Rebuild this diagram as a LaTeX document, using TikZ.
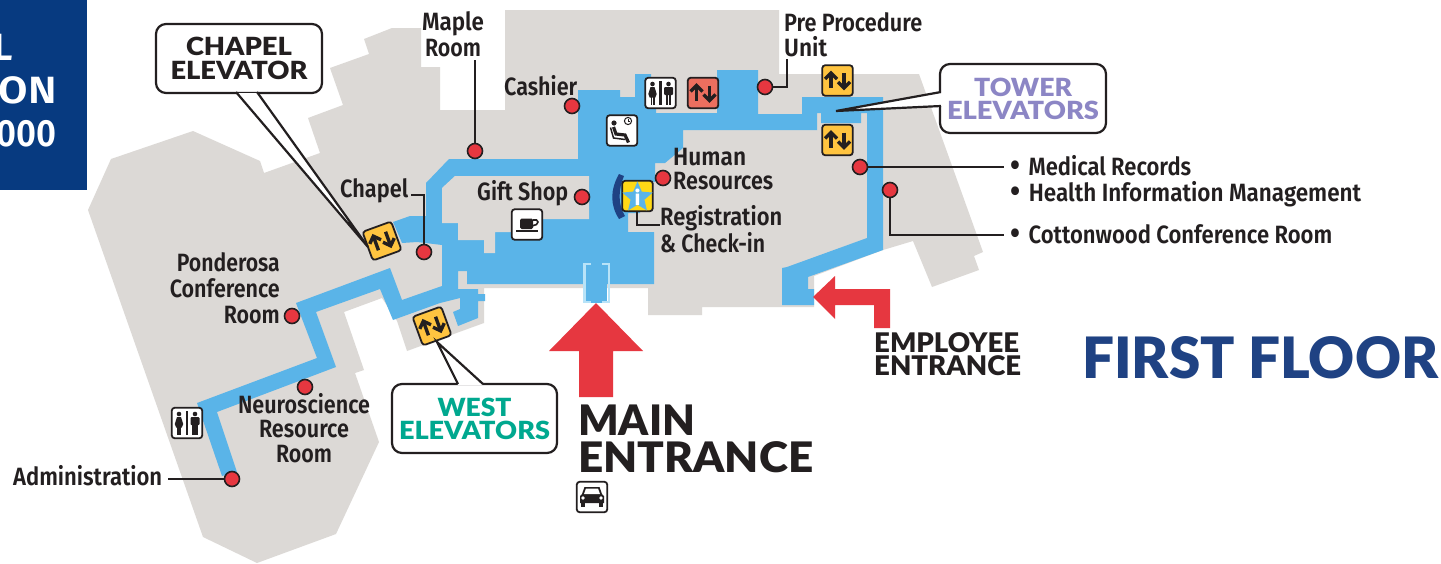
\documentclass[tikz,border=0pt]{standalone}
\usepackage{fontspec}
\usepackage{graphicx}
\usetikzlibrary{shapes.geometric,calc}
\newfontfamily\lab{Fira Sans SemiBold}
\newfontfamily\hd{Lato Black}
\definecolor{ink}{HTML}{231F20}
\definecolor{bldg}{HTML}{DCD9D6}
\definecolor{hall}{HTML}{5AB4E8}
\definecolor{door}{HTML}{B8E3F8}
\definecolor{signred}{HTML}{E63740}
\definecolor{navy}{HTML}{073A80}
\definecolor{title}{HTML}{1F4283}
\definecolor{elevy}{HTML}{FFC440}
\definecolor{elevr}{HTML}{EC6F5F}
\definecolor{infoy}{HTML}{FFD916}
\definecolor{towerc}{HTML}{8C86C5}
\definecolor{westc}{HTML}{00A88F}
\newsavebox\fitbox
\newcommand\fit[2]{\sbox\fitbox{#2}\pgfmathsetmacro\fitfac{#1/\the\wd\fitbox}\scalebox{\fitfac}[1]{\usebox\fitbox}}
\newcommand\labfont[1]{\lab\fontsize{25}{#1}\selectfont}
\newcommand\hdfont[2]{\hd\fontsize{#1}{#2}\selectfont}
\newcommand\bul{\smash{\raisebox{-1.5pt}{\fontsize{33}{33}\selectfont •}}\hspace{9pt}}
\tikzset{
 conn/.style={draw=ink,line width=1.5pt,line join=miter},
 dot/.style={circle,draw=ink,fill=signred,line width=1.6pt,minimum size=15pt,inner sep=0pt},
 txt/.style={inner sep=0pt,text=ink,font=\labfont{26}},
 iconbox/.style={draw=ink,line width=1.8pt,rounded corners=3pt,minimum size=30.5pt,inner sep=0pt},
 callout/.style={draw=ink,fill=white,line width=2.2pt,rounded corners=10pt,inner sep=0pt},
 wedgeline/.style={draw=ink,line width=2.2pt,line join=miter},
 arrowline/.style={ink,line width=3.4pt,line cap=butt,line join=miter}
}
\newcommand\elevicon[5]{%
 \node[iconbox,fill=#5,rotate=#4] (#1) at (#2,#3) {};
 \begin{scope}[shift={(#2,#3)},rotate=#4]
  \draw[arrowline] (-6.5,7.5)--(-6.5,-7.5);
  \draw[arrowline] (-12.5,-1.5)--(-6.5,-7.5)--(-0.5,-1.5);
  \draw[arrowline] (6.5,-7.5)--(6.5,7.5);
  \draw[arrowline] (0.5,1.5)--(6.5,7.5)--(12.5,1.5);
 \end{scope}}
\newcommand\resticon[3]{%
 \node[iconbox,fill=white] (#1) at (#2,#3) {};
 \begin{scope}[shift={(#2,#3)}]
  \fill[ink] (-1.2,-12) rectangle (1.2,12);
  \fill[ink] (-8,-9) circle (2.3);
  \fill[ink] (-10,-6)--(-6,-6)--(-3.8,1)--(-5.2,4.5)--(-10.8,4.5)--(-12.2,1)--cycle;
  \fill[ink] (-10,4) rectangle (-8.4,12);
  \fill[ink] (-7.6,4) rectangle (-6,12);
  \fill[ink] (8,-9) circle (2.3);
  \fill[ink,rounded corners=1pt] (3.5,-6) rectangle (12.5,2);
  \fill[ink] (5.4,1) rectangle (7.6,12);
  \fill[ink] (8.4,1) rectangle (10.6,12);
 \end{scope}}
\begin{document}
\begin{tikzpicture}[x=1pt,y=-1pt]
\useasboundingbox (0,0) rectangle (1441,563);
\fill[white] (0,0) rectangle (1441,563);
% building
\fill[bldg] (88,210)--(111,159)--(193,131)--(260,161)--(264,173)--(320,153)--(308,118)--(343,105)--(330,68)--(369,54)--(364,39)--(392,28)--(421,28)--(421,67)--(440,67)--(440,110)--(505,110)--(505,10)--(779,10)--(779,74)--(919,74)--(983,252)--(974,256)--(979,270)--(932,287)--(913,241)--(883,250)--(814,276)--(814,307)--(702,307)--(702,315)--(648,315)--(648,288)--(484,288)--(484,323)--(407,351)--(397,321)--(382,298)--(344,312)--(364,370)--(355,373)--(379,442)--(336,534)--(257,563)--(203,537)--cycle;
% corridors
\fill[hall] (449,159)--(578,159)--(578,90)--(620,90)--(620,97)--(635,97)--(635,74)--(651,74)--(651,100)--(656,100)--(656,113)--(717,113)--(717,70)--(758,70)--(758,114)--(802,114)--(802,97)--(883,97)--(883,250)--(808,277)--(808,289)--(814,289)--(814,305)--(782,305)--(782,268)--(787,267)--(867,238)--(867,113)--(861,113)--(861,123)--(821,123)--(821,113)--(817,113)--(817,130)--(683,130)--(683,148)--(665,163)--(655,163)--(655,182)--(640,182)--(640,213)--(628,213)--(628,232)--(654,232)--(654,284)--(467,284)--(467,271)--(458,271)--(458,289)--(478,289)--(478,294)--(485,294)--(485,301)--(478,301)--(478,318)--(458,326)--(453,312)--(460,309)--(460,298)--(440,303)--(393,320)--(380,289)--(316,312)--(336,367)--(217,412)--(237,472)--(222,476)--(197,403)--(317,358)--(296,303)--(390,268)--(402,300)--(442,286)--(442,245)--(417,242)--(402,243)--(393,222)--(410,216)--(426,216)--(426,183)--cycle;
\fill[bldg] (442,188)--(455,176)--(589,176)--(589,219)--(530,219)--(530,232)--(495,232)--(495,253)--(484,253)--(484,240)--(458,240)--(458,223)--(442,223)--cycle;
% main door
\fill[hall] (586,284) rectangle (607,301);
\fill[hall] (591,300) rectangle (602,303);
\draw[door,line width=2.4pt] (591,264.2)--(584.5,264.2)--(584.5,302)--(591,302);
\draw[door,line width=2.4pt] (602,264.2)--(608.8,264.2)--(608.8,302)--(602,302);
% arrows
\fill[signred] (596,303)--(643,351)--(613,351)--(613,397)--(579,397)--(579,351)--(549,351)--cycle;
\fill[signred] (813,297)--(835,276)--(835,289)--(890,289)--(890,328)--(874,328)--(874,305)--(835,305)--(835,319)--cycle;
% navy panel
\fill[navy] (0,0) rectangle (87,190);
\node[inner sep=0pt,anchor=base east,text=white,font=\lab\fontsize{38}{38}\selectfont] (panelA) at (13,60) {L};
\node[inner sep=0pt,anchor=base east,text=white,font=\lab\fontsize{38}{38}\selectfont] (panelB) at (57,103) {\fit{58}{ON}};
\node[inner sep=0pt,anchor=base east,text=white,font=\lab\fontsize{38}{38}\selectfont] (panelC) at (57,146) {\fit{60}{000}};
% info crescent
\fill[title] (619,174) .. controls (610,190) and (610,205) .. (619,219) -- (625,216) .. controls (618,205) and (618,190) .. (624,176) -- cycle;
% icons
\elevicon{eTowerTop}{837.5}{80.5}{0}{elevy}
\elevicon{eTowerLow}{837.5}{140}{0}{elevy}
\elevicon{eRed}{703}{93}{0}{elevr}
\elevicon{eChapel}{382}{241}{20}{elevy}
\elevicon{eWest}{432}{326}{20}{elevy}
\resticon{rTop}{660.5}{93}
\resticon{rLeft}{187}{423}
% waiting room icon
\node[iconbox,fill=white] (iWait) at (622,130.5) {};
\begin{scope}[shift={(622,130.5)}]
 \fill[ink] (-8,-7.5) circle (2.6);
 \draw[ink,line width=3.2pt] (-8.5,-3.5)--(-6,3.5)--(3,4.5)--(6.5,12);
 \draw[ink,line width=1.5pt] (-11.5,-3)--(-8.5,7.5)--(3,9);
 \draw[ink,line width=1pt,fill=white] (6,-9.5) circle (3.6);
 \draw[ink,line width=.8pt] (6,-11.5)--(6,-9.5)--(8,-9.5);
\end{scope}
% coffee icon
\node[iconbox,fill=white] (iCoffee) at (527,224.5) {};
\begin{scope}[shift={(527,224.5)}]
 \fill[ink,rounded corners=1.5pt] (-7,-6) rectangle (6,4.5);
 \draw[ink,line width=1.6pt] (6,-4.5)--(9.5,-4.5)--(11,-2.5)--(9.5,0)--(5,1.5);
 \fill[ink] (-11,5.8) rectangle (11,7.5);
\end{scope}
% car icon
\node[iconbox,fill=white] (iCar) at (592,497) {};
\begin{scope}[shift={(592,497)}]
 \fill[ink] (-7.5,-10)--(7.5,-10)--(10,-3)--(12,-1)--(12,6)--(-12,6)--(-12,-1)--(-10,-3)--cycle;
 \fill[white] (-6,-8.5)--(6,-8.5)--(8,-3)--(-8,-3)--cycle;
 \fill[ink] (-11,6) rectangle (-7,10);
 \fill[ink] (7,6) rectangle (11,10);
 \fill[white] (-9,1) circle (1.8);
 \fill[white] (9,1) circle (1.8);
\end{scope}
% info star icon
\node[iconbox,fill=infoy] (iInfo) at (637.5,196) {};
\node[star,star points=5,star point ratio=2.2,fill=hall,inner sep=0pt,minimum size=32pt] (iStar) at (637.5,197.5) {};
\node[inner sep=0pt,text=white,font=\hd\fontsize{22}{22}\selectfont] (iLetter) at (637.5,197) {i};
% points of interest
\node[dot] (dMaple) at (475,151) {};
\node[dot] (dCashier) at (572,106) {};
\node[dot] (dPre) at (765,87) {};
\node[dot] (dChapel) at (424,252) {};
\node[dot] (dGift) at (582,197) {};
\node[dot] (dHuman) at (663,178) {};
\node[dot] (dMedical) at (860,167) {};
\node[dot] (dCotton) at (890,190) {};
\node[dot] (dPonderosa) at (292,316) {};
\node[dot] (dNeuro) at (305,387) {};
\node[dot] (dAdmin) at (232,479) {};
% connector ends
\coordinate (cMaple) at (475,60);
\coordinate (cPreA) at (787,87);
\coordinate (cPreB) at (787,59);
\coordinate (cChapelA) at (424,195);
\coordinate (cChapelB) at (411,195);
\coordinate (cRegA) at (637,225);
\coordinate (cRegB) at (660,225);
\coordinate (cMedical) at (1004,167);
\coordinate (cCottonA) at (890,235);
\coordinate (cCottonB) at (1004,235);
\coordinate (cAdmin) at (168,479);
\draw[conn] (dMaple) -- (cMaple);
\draw[conn] (dPre) -- (cPreA) -- (cPreB);
\draw[conn] (dChapel) -- (cChapelA) -- (cChapelB);
\draw[conn] (iInfo.south -| cRegA) -- (cRegA) -- (cRegB);
\draw[conn] (dMedical) -- (cMedical);
\draw[conn] (dCotton) -- (cCottonA) -- (cCottonB);
\draw[conn] (dAdmin) -- (cAdmin);
% labels
\node[txt,anchor=base,align=center] (tMaple) at (453,56.5) {\fit{62}{Maple}\\\fit{56}{Room}};
\node[txt,anchor=base west] (tCashier) at (504,95) {\fit{73}{Cashier}};
\node[txt,anchor=base west,align=left,font=\labfont{24.5}] (tPre) at (784,56) {\fit{138}{Pre Procedure}\\\fit{43}{Unit}};
\node[txt,anchor=base west,align=left,font=\labfont{24}] (tHuman) at (673,189) {\fit{73}{Human}\\\fit{100}{Resources}};
\node[txt,anchor=base west] (tGift) at (477,200) {\fit{91}{Gift Shop}};
\node[txt,anchor=base west,align=left,font=\labfont{27}] (tReg) at (660,252) {\fit{122}{Registration}\\\fit{105}{\& Check-in}};
\node[txt,anchor=base west] (tChapel) at (340,197) {\fit{68}{Chapel}};
\node[txt,anchor=base east,align=right] (tPond) at (280,323) {\fit{103}{Ponderosa}\\\fit{110}{Conference}\\\fit{56}{Room}};
\node[txt,anchor=base,align=center,font=\labfont{24.5}] (tNeuro) at (304,462) {\fit{132}{Neuroscience}\\\fit{90}{Resource}\\\fit{56}{Room}};
\node[txt,anchor=base west] (tAdmin) at (13,485) {\fit{149}{Administration}};
\node[txt,anchor=base west] (tMedical) at (1010.5,175) {\fit{180.5}{\bul Medical Records}};
\node[txt,anchor=base west] (tHealth) at (1010.5,201) {\fit{350.5}{\bul Health Information Management}};
\node[txt,anchor=base west] (tCotton) at (1010.5,243) {\fit{321.5}{\bul Cottonwood Conference Room}};
% callouts
\node[callout,minimum width=166pt,minimum height=69pt,align=center,text=ink,font=\hdfont{25}{24}] (cbChapel) at (239,58.5) {\fit{106}{CHAPEL}\\\fit{137}{ELEVATOR}};
\coordinate (tipChapel) at (368,247);
\fill[white] (236,93)--(tipChapel)--(257,93)--cycle;
\draw[wedgeline] (236,92)--(tipChapel)--(257,92);
\node[callout,minimum width=166pt,minimum height=69pt,align=center,text=towerc,font=\hdfont{25}{23}] (cbTower) at (1023,98.5) {\fit{98}{TOWER}\\\fit{152}{ELEVATORS}};
\coordinate (tipTower) at (836,111);
\fill[white] (942,92)--(tipTower)--(942,106)--cycle;
\draw[wedgeline] (941,92)--(tipTower)--(941,106);
\node[callout,minimum width=165pt,minimum height=69pt,align=center,text=westc,font=\hdfont{25}{23}] (cbWest) at (474.5,418.5) {\fit{74}{WEST}\\\fit{151}{ELEVATORS}};
\coordinate (tipWest) at (437,342);
\fill[white] (458,385)--(tipWest)--(483,385)--cycle;
\draw[wedgeline] (458,384)--(tipWest)--(483,384);
% entrances and title
\node[inner sep=0pt,anchor=base west,align=left,text=ink,font=\hdfont{42}{37}] (tMain) at (578,472) {\fit{117}{MAIN}\\\fit{235}{ENTRANCE}};
\node[inner sep=0pt,anchor=base west,align=left,text=ink,font=\hdfont{27}{23}] (tEmp) at (874,375) {\fit{145}{EMPLOYEE}\\\fit{147}{ENTRANCE}};
\node[inner sep=0pt,anchor=base west,text=title,font=\hdfont{57}{57}] (tFloor) at (1082,378) {\fit{356}{FIRST FLOOR}};
\end{tikzpicture}
\end{document}
